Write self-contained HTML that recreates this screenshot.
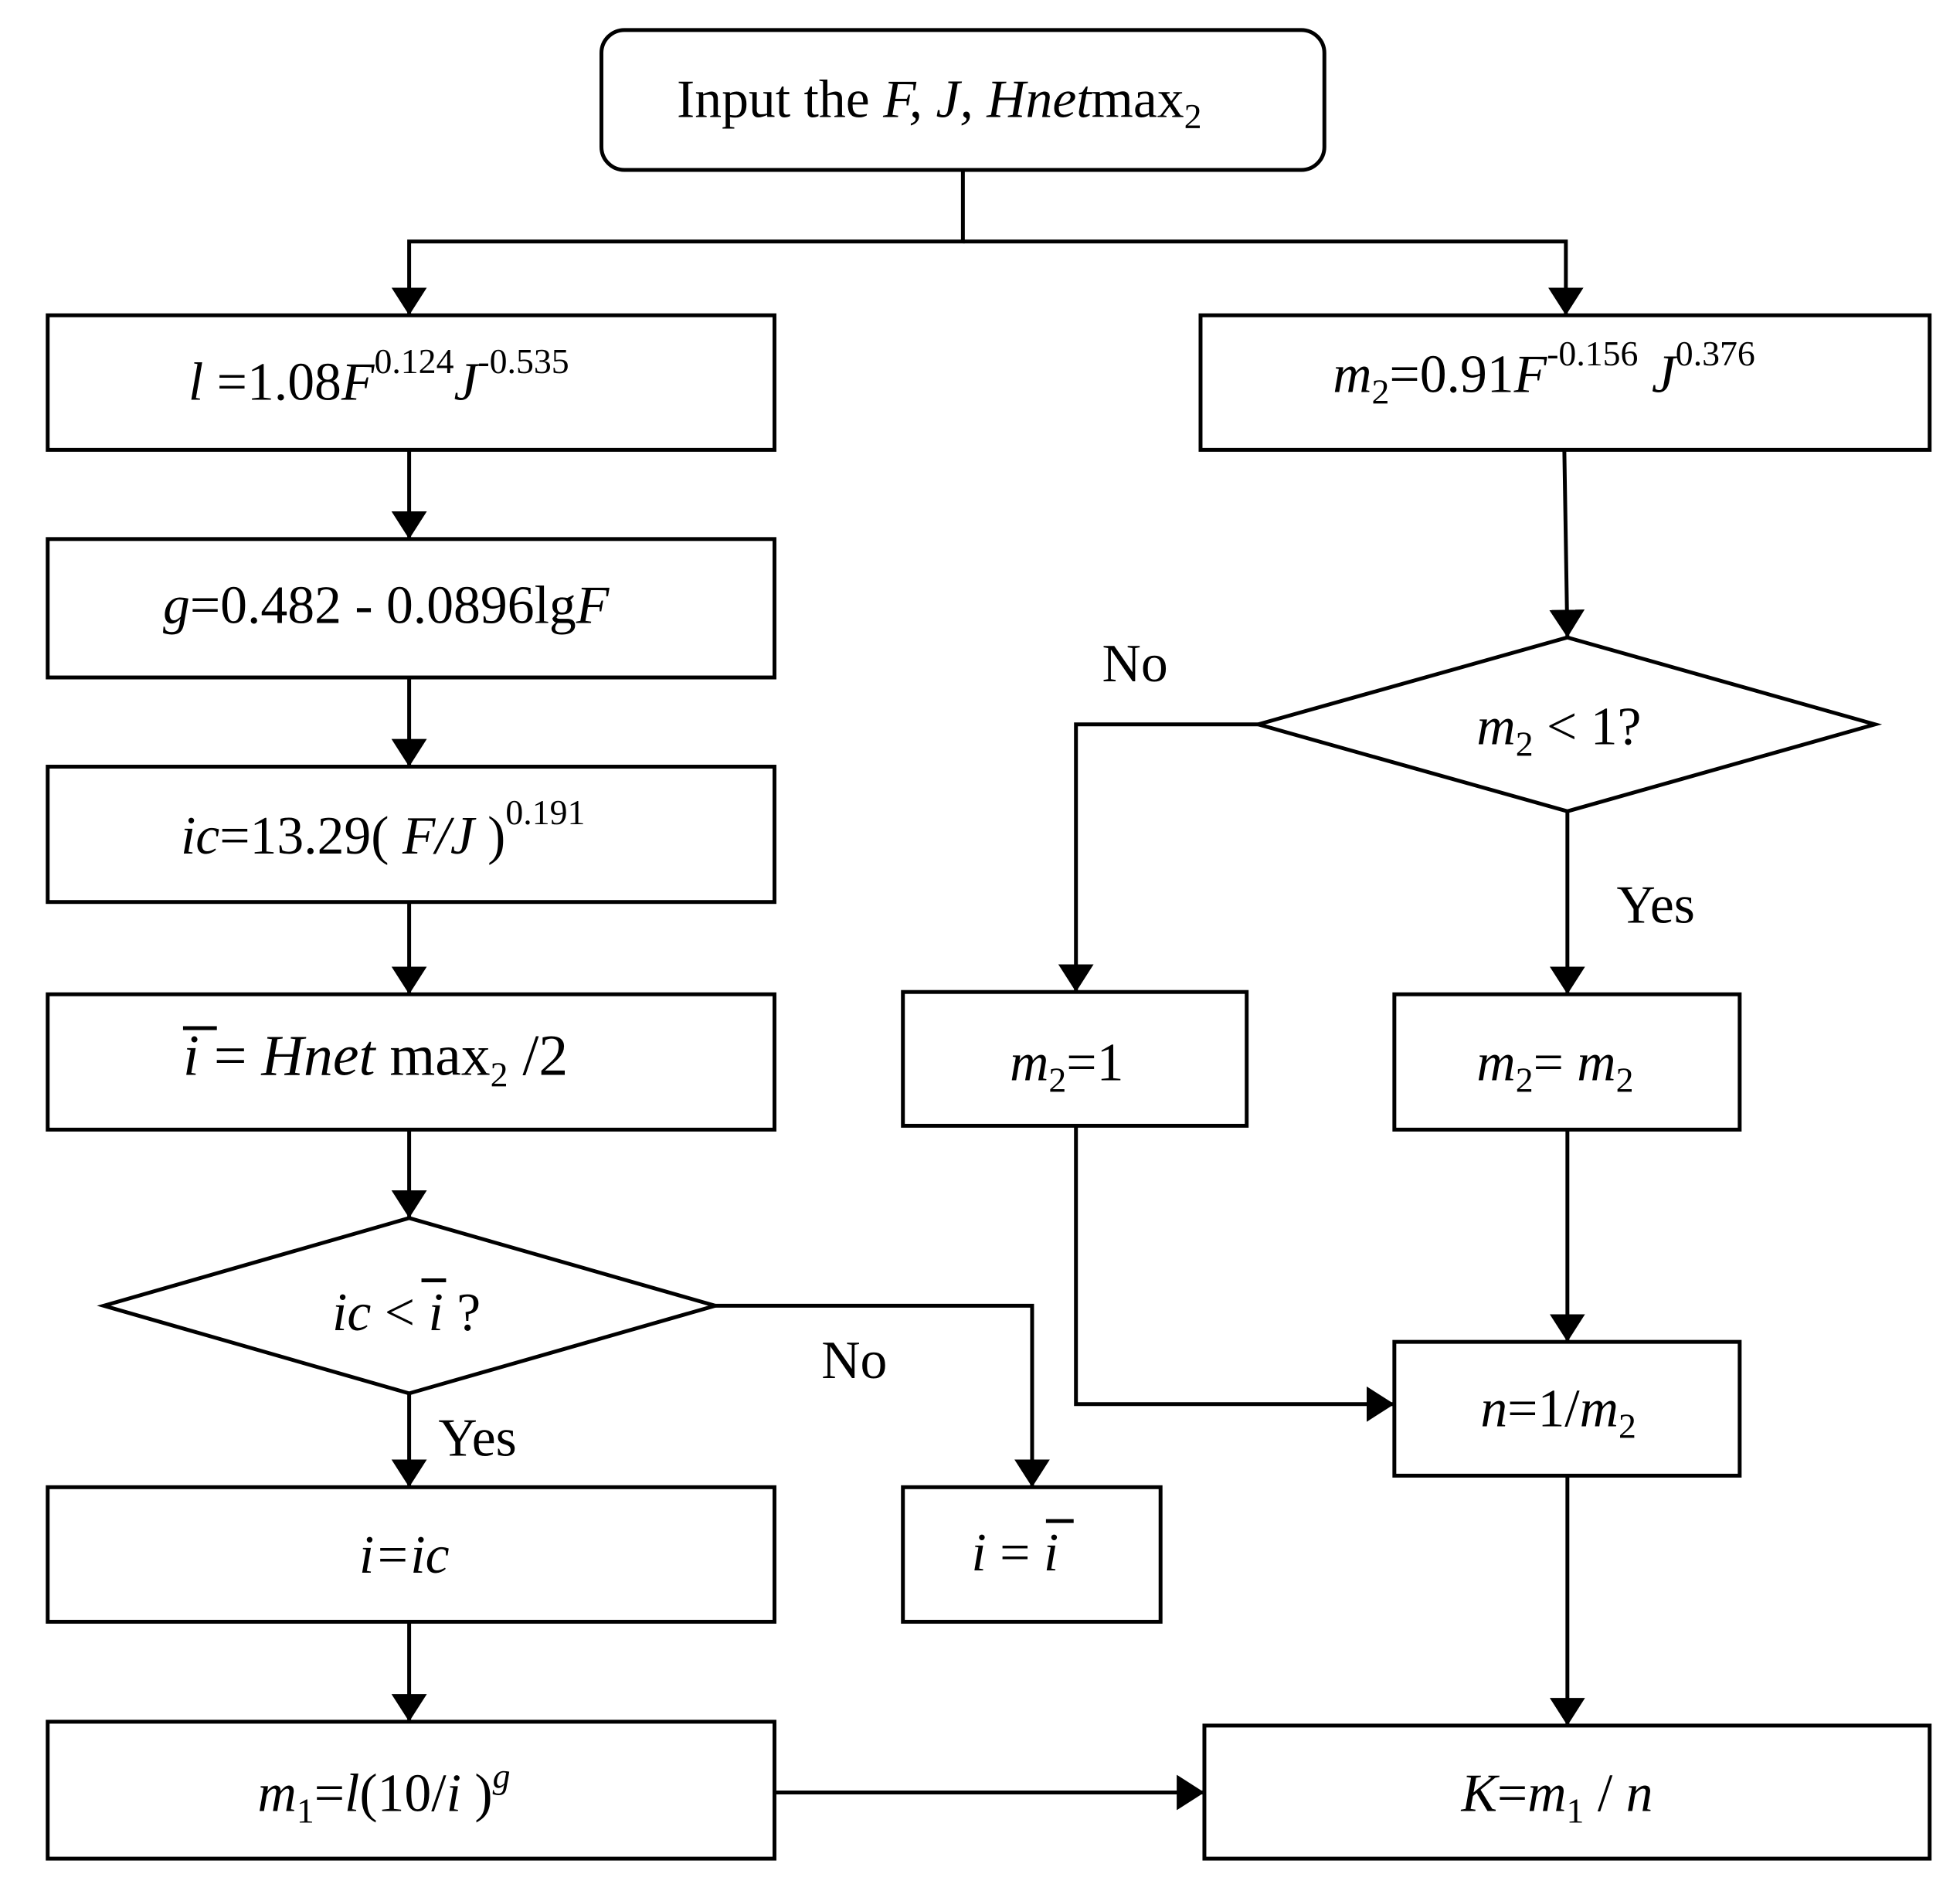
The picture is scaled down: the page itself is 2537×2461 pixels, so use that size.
<!DOCTYPE html>
<html><head><meta charset="utf-8"><style>
html,body{margin:0;padding:0;background:#fff}
svg{display:block}
text{font-family:"Liberation Serif",serif;font-size:70px;fill:#000}
.s{font-size:46px}
</style></head><body>
<svg width="2537" height="2461" viewBox="0 0 2537 2461" xmlns="http://www.w3.org/2000/svg">
<defs>
<marker id="b" markerWidth="36" markerHeight="46" refX="36" refY="23" orient="auto" markerUnits="userSpaceOnUse"><path d="M0,0 L36,23 L0,46 z" fill="#000"/></marker></defs>
<g transform="scale(0.9955)">
<g fill="none" stroke="#000" stroke-width="5">
<rect x="782" y="39" width="940" height="182" rx="30"/>
<rect x="62" y="410" width="945" height="175"/>
<rect x="62" y="701" width="945" height="180"/>
<rect x="62" y="997" width="945" height="176"/>
<rect x="62" y="1293" width="945" height="176"/>
<polygon points="135,1698 532,1584 930,1698 532,1812"/>
<rect x="62" y="1934" width="945" height="175"/>
<rect x="62" y="2239" width="945" height="178"/>
<rect x="1561" y="410" width="948" height="175"/>
<polygon points="1636,942 2038,829 2438,942 2038,1055"/>
<rect x="1174" y="1290" width="447" height="174"/>
<rect x="1813" y="1293" width="449" height="176"/>
<rect x="1174" y="1934" width="335" height="175"/>
<rect x="1813" y="1745" width="449" height="174"/>
<rect x="1566" y="2244" width="943" height="173"/>
</g>
<g fill="none" stroke="#000" stroke-width="5" marker-end="url(#b)">
<path d="M1252,221 V314 H532 V410"/>
<path d="M1252,314 H2036 V410"/>
<path d="M532,585 V701"/>
<path d="M532,881 V997"/>
<path d="M532,1173 V1293"/>
<path d="M532,1469 V1584"/>
<path d="M532,1812 V1934"/>
<path d="M532,2109 V2239"/>
<path d="M930,1698 H1342 V1934"/>
<path d="M2034,585 L2038,829"/>
<path d="M1636,942 H1399 V1290"/>
<path d="M2038,1055 V1293"/>
<path d="M2038,1469 V1745"/>
<path d="M1399,1464 V1826 H1813"/>
<path d="M2038,1919 V2244"/>
<path d="M1007,2331 H1566"/>
</g>
<text x="880" y="152">Input  the <tspan font-style="italic">F, J, Hnet</tspan>max<tspan class="s" dy="15">2</tspan></text>
<text x="245" y="520"><tspan font-style="italic">l</tspan> =1.08<tspan font-style="italic">F</tspan><tspan class="s" dy="-35">0.124</tspan><tspan font-style="italic" dy="35">J</tspan><tspan class="s" dy="-35">-0.535</tspan></text>
<text x="212" y="810"><tspan font-style="italic">g</tspan>=0.482 - 0.0896lg<tspan font-style="italic">F</tspan></text>
<text x="235" y="1110"><tspan font-style="italic">ic</tspan>=13.29( <tspan font-style="italic">F/J</tspan> )<tspan class="s" dy="-38">0.191</tspan></text>
<text x="238" y="1398" style="font-size:76px"><tspan font-style="italic">i</tspan>  =  <tspan font-style="italic">Hnet</tspan> max<tspan class="s" dy="15">2</tspan><tspan dy="-15"> /2</tspan></text>
<line x1="238" y1="1337" x2="282" y2="1337" stroke="#000" stroke-width="5"/>
<text x="432" y="1730"><tspan font-style="italic">ic</tspan> &lt; <tspan font-style="italic">i</tspan> ?</text>
<line x1="548" y1="1665" x2="580" y2="1665" stroke="#000" stroke-width="5"/>
<text x="467" y="2045" font-style="italic">i=ic</text>
<text x="335" y="2355"><tspan font-style="italic">m</tspan><tspan class="s" dy="15">1</tspan><tspan dy="-15">=</tspan><tspan font-style="italic">l</tspan>(10/<tspan font-style="italic">i</tspan> )<tspan class="s" font-style="italic" dy="-30">g</tspan></text>
<text x="1733" y="510"><tspan font-style="italic">m</tspan><tspan class="s" dy="15">2</tspan><tspan dy="-15">=0.91</tspan><tspan font-style="italic">F</tspan><tspan class="s" dy="-35">-0.156</tspan><tspan font-style="italic" dy="35"> J</tspan><tspan class="s" dy="-35">0.376</tspan></text>
<text x="1920" y="968"><tspan font-style="italic">m</tspan><tspan class="s" dy="15">2</tspan><tspan dy="-15"> &lt; 1?</tspan></text>
<text x="1433" y="886">No</text>
<text x="2102" y="1200">Yes</text>
<text x="1313" y="1405"><tspan font-style="italic">m</tspan><tspan class="s" dy="15">2</tspan><tspan dy="-15">=1</tspan></text>
<text x="1920" y="1405"><tspan font-style="italic">m</tspan><tspan class="s" dy="15">2</tspan><tspan dy="-15">= </tspan><tspan font-style="italic">m</tspan><tspan class="s" dy="15">2</tspan></text>
<text x="1068" y="1792">No</text>
<text x="570" y="1893">Yes</text>
<text x="1263" y="2042"><tspan font-style="italic">i</tspan> = <tspan font-style="italic">i</tspan></text>
<line x1="1360" y1="1978" x2="1396" y2="1978" stroke="#000" stroke-width="5"/>
<text x="1925" y="1855"><tspan font-style="italic">n</tspan>=1/<tspan font-style="italic">m</tspan><tspan class="s" dy="15">2</tspan></text>
<text x="1900" y="2355"><tspan font-style="italic">K</tspan>=<tspan font-style="italic">m</tspan><tspan class="s" dy="15">1</tspan><tspan dy="-15"> / </tspan><tspan font-style="italic">n</tspan></text>
</g>
</svg>
</body></html>
